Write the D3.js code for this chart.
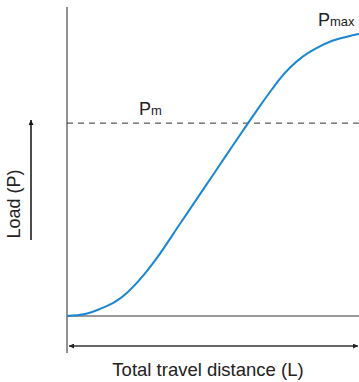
<!DOCTYPE html>
<html>
<head>
<meta charset="utf-8">
<script src="https://cdn.jsdelivr.net/npm/d3@7"></script>
<style>
  html, body { margin: 0; padding: 0; background: #fff; }
  svg { display: block; font-family: "Liberation Sans", Arial, Helvetica, sans-serif; }
</style>
</head>
<body>
<svg id="chart" width="359" height="382"></svg>
<script>
// Travel distance (% of total) and load (% of Pmax)
const distance = [0, 6.2, 11.3, 16.4, 20.5, 26.0, 30.8, 38.7, 46.6, 54.8, 62.0, 66.1, 70.2, 72.9, 76.4, 80.5, 85.6, 91.1, 96.9, 100];
const load     = [0, 0.7, 2.5, 5.0, 8.2, 14.2, 20.6, 32.7, 44.8, 57.4, 68.4, 74.5, 80.4, 84.1, 88.1, 91.8, 95.1, 97.7, 99.3, 100];
const pmLevel = 68.4;
const pmaxLevel = 100;
const labels = { y: "Load (P)", x: "Total travel distance (L)", pm: ["P", "m"], pmax: ["P", "max"] };

const svg = d3.select("#chart");
const x = d3.scaleLinear().domain([0, 100]).range([67, 359]);
const y = d3.scaleLinear().domain([0, 100]).range([316, 34]);

const defs = svg.append("defs");
function marker(id, color) {
  defs.append("marker").attr("id", id)
    .attr("viewBox", "0 0 10 10").attr("refX", 10).attr("refY", 5)
    .attr("markerWidth", 7).attr("markerHeight", 5).attr("markerUnits", "userSpaceOnUse")
    .attr("orient", "auto-start-reverse")
    .append("path").attr("d", "M0,0 L10,5 L0,10 Z").attr("fill", color);
}
marker("arrowDark", "#222");
marker("arrowUp", "#111");

// Axes
svg.append("line").attr("x1", x(0)).attr("x2", x(0)).attr("y1", 7).attr("y2", 353)
  .attr("stroke", "#777").attr("stroke-width", 1.6);
svg.append("line").attr("x1", x(0)).attr("x2", x(100)).attr("y1", y(0)).attr("y2", y(0))
  .attr("stroke", "#777").attr("stroke-width", 1.6);

// Pm dashed line
svg.append("line").attr("x1", x(0)).attr("x2", x(100)).attr("y1", y(pmLevel)).attr("y2", y(pmLevel))
  .attr("stroke", "#333").attr("stroke-width", 1).attr("stroke-dasharray", "6,5");

// Curve
const pts = distance.map((d, i) => [d, load[i]]);
svg.append("path").datum(pts)
  .attr("d", d3.line().x(d => x(d[0])).y(d => y(d[1])).curve(d3.curveMonotoneX))
  .attr("fill", "none").attr("stroke", "#1a87d0").attr("stroke-width", 2);

// Total distance double arrow
svg.append("line").attr("x1", x(0) + 2).attr("x2", x(100) - 1).attr("y1", 346).attr("y2", 346)
  .attr("stroke", "#333").attr("stroke-width", 1.5)
  .attr("marker-start", "url(#arrowDark)").attr("marker-end", "url(#arrowDark)");

// Load arrow
svg.append("line").attr("x1", 31).attr("x2", 31).attr("y1", 240).attr("y2", 120)
  .attr("stroke", "#111").attr("stroke-width", 1.5).attr("marker-end", "url(#arrowUp)");

// Labels
svg.append("text").attr("transform", "translate(20,204) rotate(-90)")
  .attr("text-anchor", "middle").attr("font-size", 18).attr("fill", "#222").text(labels.y);
svg.append("text").attr("x", 208).attr("y", 376)
  .attr("text-anchor", "middle").attr("font-size", 18.5).attr("fill", "#222").text(labels.x);

function subLabel(px, py, parts) {
  const t = svg.append("text").attr("x", px).attr("y", py).attr("fill", "#222");
  t.append("tspan").attr("font-size", 18).text(parts[0]);
  t.append("tspan").attr("font-size", 13).text(parts[1]);
}
subLabel(139, y(pmLevel) - 8, labels.pm);
subLabel(318, y(pmaxLevel) - 8, labels.pmax);
</script>
</body>
</html>
